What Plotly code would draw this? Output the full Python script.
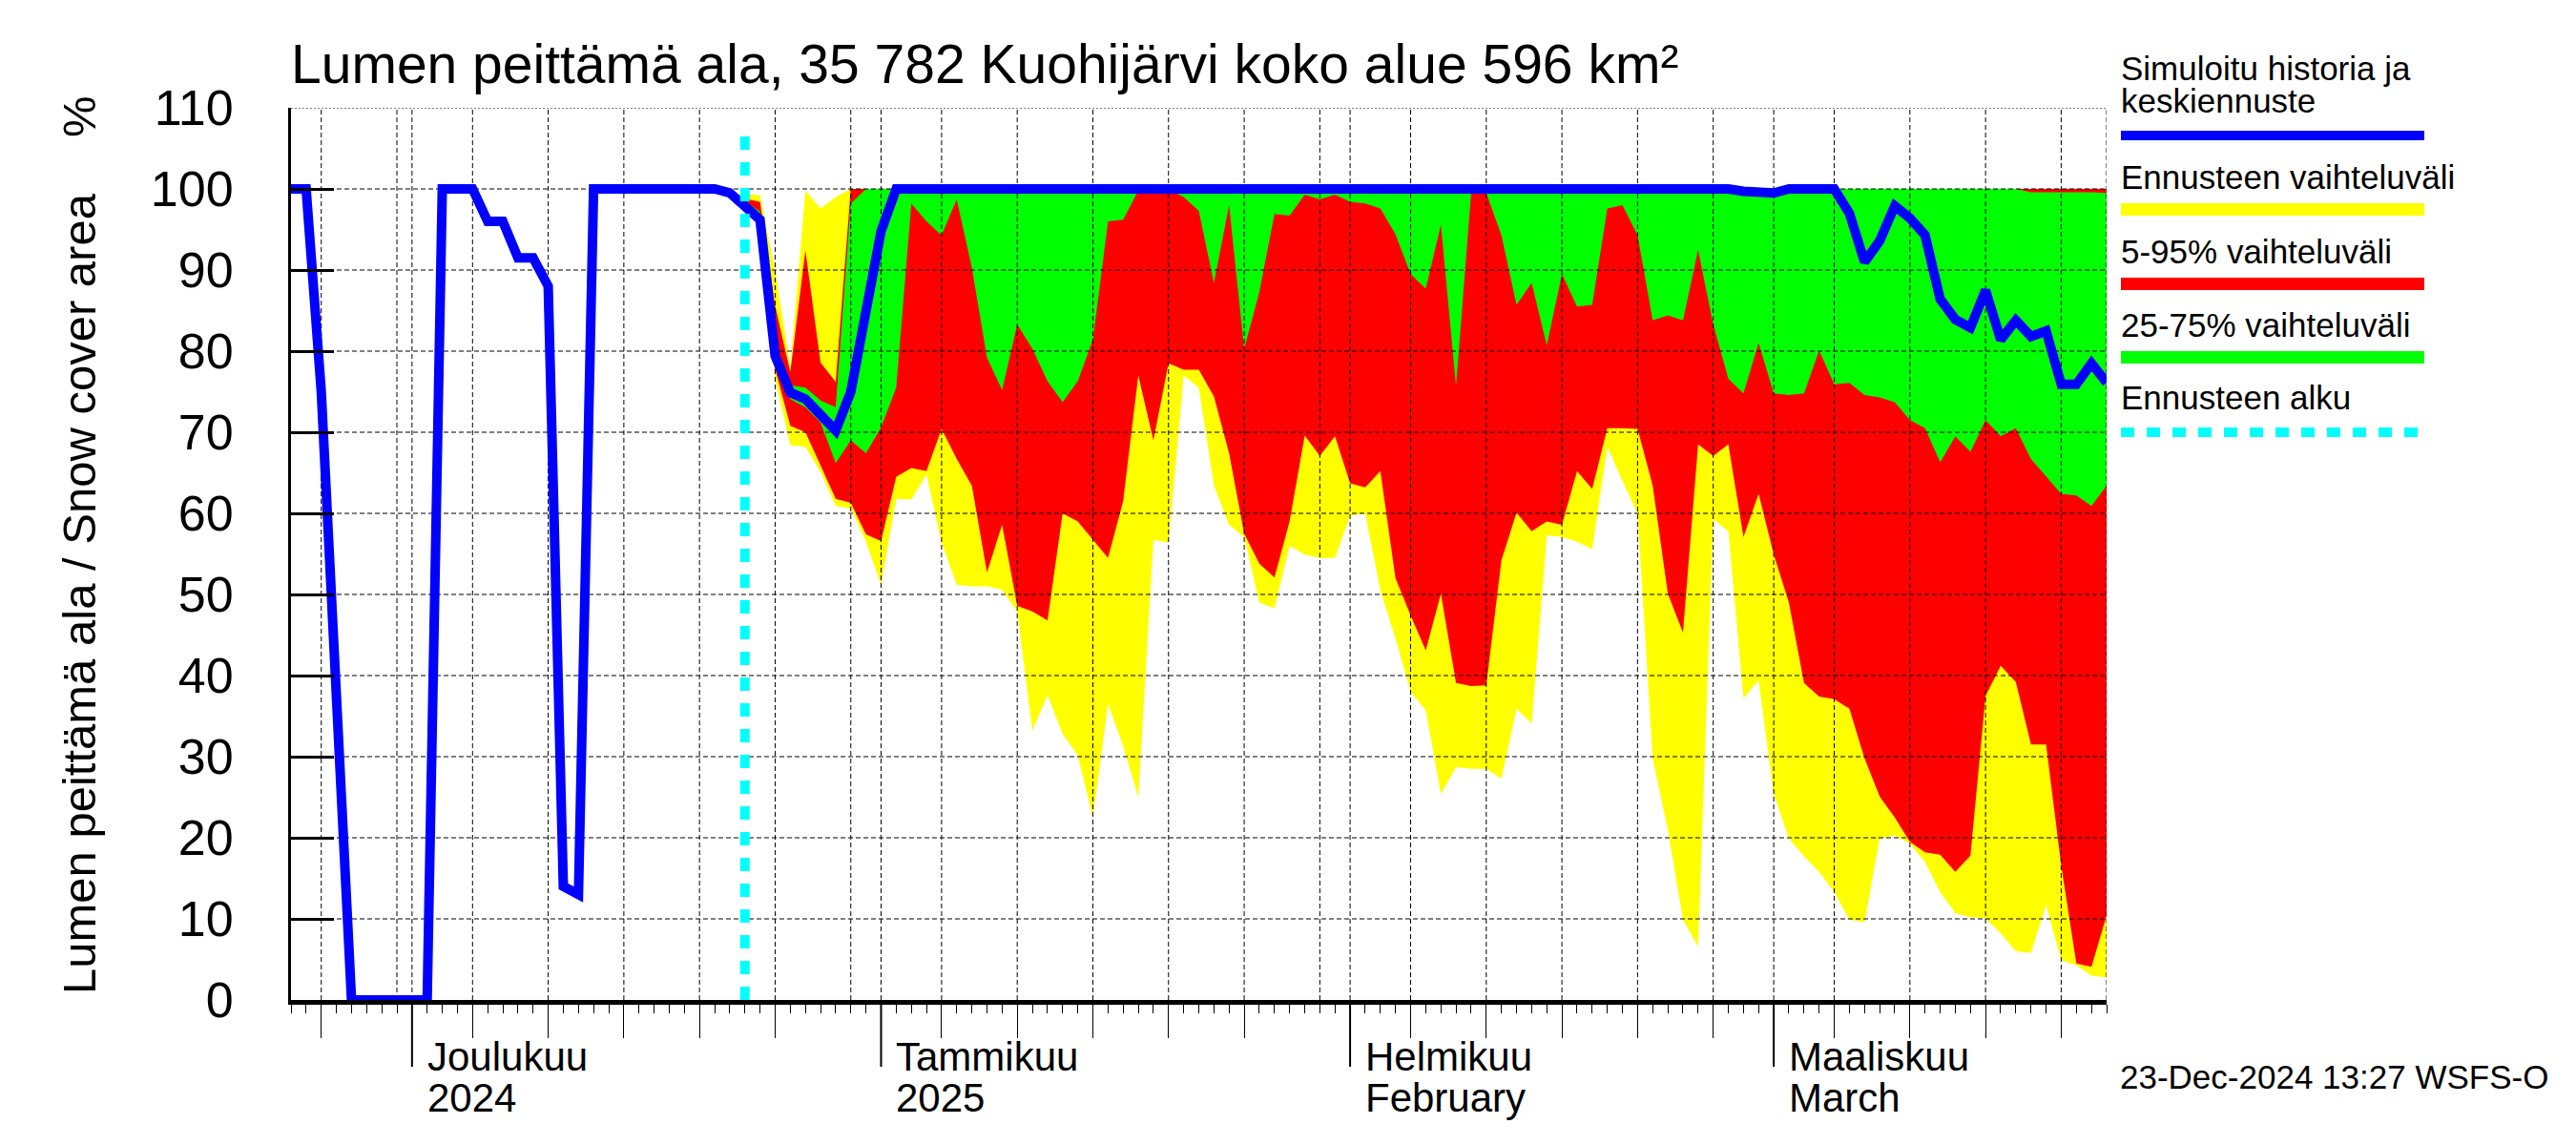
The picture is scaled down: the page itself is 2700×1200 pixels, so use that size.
import pandas as pd
import plotly.graph_objects as go

# ------------------------------------------------------------------ data
hist_start = '2024-11-23'
forecast_start = '2024-12-23'
x_end = '2025-03-23'

# simulated history, daily from 2024-11-23 to 2024-12-22 (%)
hist_snow = [100, 100, 75, 37, 0, 0, 0, 0, 0, 0,
             100, 100, 100, 96, 96, 91.5, 91.5, 88, 14, 13,
             100, 100, 100, 100, 100, 100, 100, 100, 100, 99.5]

# forecast, daily from 2024-12-23 to 2025-03-23 (%)
fc_median = [97.8, 96.2, 79.4, 74.9, 74.1, 72.3, 70.2, 75.0, 85.0, 94.8,
             100, 100, 100, 100, 100, 100, 100, 100, 100, 100,
             100, 100, 100, 100, 100, 100, 100, 100, 100, 100,
             100, 100, 100, 100, 100, 100, 100, 100, 100, 100,
             100, 100, 100, 100, 100, 100, 100, 100, 100, 100,
             100, 100, 100, 100, 100, 100, 100, 100, 100, 100,
             100, 100, 100, 100, 100, 100, 99.7, 99.5, 99.5, 100,
             100, 100, 100, 97.0, 91.0, 93.6, 97.9, 96.4, 94.3, 86.4,
             83.9, 82.9, 87.5, 81.4, 83.8, 81.8, 82.5, 75.9, 75.9, 78.5,
             76.1]

fc_min = [97.3, 95.4, 76.6, 68.4, 68.2, 65.1, 60.9, 60.6, 56.5, 51.2,
          61.8, 61.7, 64.8, 56.4, 51.2, 51.0, 51.0, 50.6, 47.9, 33.2,
          37.6, 32.8, 30.2, 22.5, 36.5, 31.3, 25.0, 56.7, 56.4, 77.0,
          75.5, 63.4, 58.6, 57.1, 49.0, 48.3, 56.0, 54.9, 54.5, 54.5,
          59.7, 60.0, 50.5, 44.6, 38.0, 35.7, 25.4, 28.7, 28.5, 28.5,
          27.3, 35.9, 34.1, 57.3, 57.1, 56.5, 55.6, 68.2, 64.0, 60.0,
          29.8, 21.0, 9.9, 6.6, 59.3, 57.8, 37.2, 39.4, 25.4, 19.9,
          17.7, 15.8, 13.3, 9.9, 9.6, 19.9, 20.3, 19.3, 17.0, 13.3,
          10.7, 10.2, 10.1, 8.2, 6.0, 5.8, 11.7, 4.9, 4.3, 3.0,
          2.8]

fc_p5 = [97.8, 95.8, 77.8, 70.8, 70.0, 65.9, 61.8, 61.3, 57.4, 56.6,
         64.5, 65.6, 65.2, 70.4, 66.7, 63.4, 52.7, 58.6, 48.6, 47.9,
         46.8, 60.0, 59.0, 56.7, 54.5, 61.5, 77.0, 69.0, 78.5, 77.7,
         77.7, 74.4, 67.4, 57.5, 53.8, 52.1, 59.0, 69.6, 67.1, 69.5,
         63.7, 63.2, 65.2, 52.0, 47.4, 43.1, 50.1, 39.1, 38.7, 38.8,
         54.2, 60.1, 57.8, 59.0, 58.6, 65.2, 63.0, 70.5, 70.5, 70.4,
         63.4, 50.1, 45.3, 68.5, 67.1, 68.5, 57.1, 62.4, 54.9, 49.0,
         39.1, 37.4, 37.1, 35.9, 29.8, 25.1, 22.5, 19.5, 18.2, 17.9,
         15.8, 17.8, 37.5, 41.2, 39.2, 31.5, 31.5, 16.6, 4.5, 4.1,
         10.4]

fc_p25 = [98.2, 96.2, 79.0, 74.1, 73.1, 71.2, 66.2, 69.0, 67.4, 70.6,
          75.5, 98.2, 96.0, 94.3, 98.7, 90.3, 79.2, 75.2, 83.3, 80.3,
          76.3, 73.7, 76.3, 81.4, 96.0, 96.2, 99.8, 100, 100, 99.0,
          97.3, 88.4, 98.0, 80.3, 87.3, 96.9, 96.7, 99.3, 98.7, 99.3,
          98.4, 98.2, 97.6, 94.4, 89.5, 87.7, 95.6, 75.7, 99.5, 99.5,
          94.3, 85.7, 88.4, 80.7, 89.5, 85.5, 85.7, 97.6, 98.0, 94.3,
          83.8, 84.4, 83.8, 92.5, 83.3, 76.6, 74.8, 81.0, 74.8, 74.6,
          74.8, 80.1, 75.9, 76.1, 74.6, 74.3, 73.7, 71.5, 70.5, 66.3,
          69.5, 67.6, 71.5, 69.5, 70.5, 66.7, 64.5, 62.4, 62.2, 60.9,
          63.4]

fc_p75 = [98.5, 97.2, 80.5, 75.8, 75.5, 73.9, 73.1, 98.2, 100, 100,
          100, 100, 100, 100, 100, 100, 100, 100, 100, 100,
          100, 100, 100, 100, 100, 100, 100, 100, 100, 100,
          100, 100, 100, 100, 100, 100, 100, 100, 100, 100,
          100, 100, 100, 100, 100, 100, 100, 100, 100, 100,
          100, 100, 100, 100, 100, 100, 100, 100, 100, 100,
          100, 100, 100, 100, 100, 100, 100, 100, 100, 100,
          100, 100, 100, 100, 100, 100, 100, 100, 100, 100,
          100, 100, 100, 100, 100, 99.6, 99.6, 99.6, 99.6, 99.6,
          99.5]

fc_p95 = [98.8, 98.4, 85.6, 77.4, 92.4, 78.6, 76.2, 100, 100, 100,
          100, 100, 100, 100, 100, 100, 100, 100, 100, 100,
          100, 100, 100, 100, 100, 100, 100, 100, 100, 100,
          100, 100, 100, 100, 100, 100, 100, 100, 100, 100,
          100, 100, 100, 100, 100, 100, 100, 100, 100, 100,
          100, 100, 100, 100, 100, 100, 100, 100, 100, 100,
          100, 100, 100, 100, 100, 100, 100, 100, 100, 100,
          100, 100, 100, 100, 100, 100, 100, 100, 100, 100,
          100, 100, 100, 100, 100, 100, 100, 100, 100, 100,
          100]

fc_max = [99.4, 99.2, 90.0, 78.0, 99.8, 97.6, 99.0, 100, 100, 100,
          100, 100, 100, 100, 100, 100, 100, 100, 100, 100,
          100, 100, 100, 100, 100, 100, 100, 100, 100, 100,
          100, 100, 100, 100, 100, 100, 100, 100, 100, 100,
          100, 100, 100, 100, 100, 100, 100, 100, 100, 100,
          100, 100, 100, 100, 100, 100, 100, 100, 100, 100,
          100, 100, 100, 100, 100, 100, 100, 100, 100, 100,
          100, 100, 100, 100, 100, 100, 100, 100, 100, 100,
          100, 100, 100, 100, 100, 100, 100, 100, 100, 100,
          100]

y_ticks = [0, 10, 20, 30, 40, 50, 60, 70, 80, 90, 100, 110]

grid_dates = ['2024-11-25', '2024-11-30', '2024-12-01', '2024-12-05', '2024-12-10',
              '2024-12-15', '2024-12-20', '2024-12-25', '2024-12-30', '2025-01-01',
              '2025-01-05', '2025-01-10', '2025-01-15', '2025-01-20', '2025-01-25',
              '2025-01-30', '2025-02-01', '2025-02-05', '2025-02-10', '2025-02-15',
              '2025-02-20', '2025-02-25', '2025-03-01', '2025-03-05', '2025-03-10',
              '2025-03-15', '2025-03-20', '2025-03-23']
five_day_ticks = ['2024-11-25', '2024-12-05', '2024-12-10', '2024-12-15', '2024-12-20',
                  '2024-12-25', '2025-01-05', '2025-01-10', '2025-01-15', '2025-01-20',
                  '2025-01-25', '2025-02-05', '2025-02-10', '2025-02-15', '2025-02-20',
                  '2025-02-25', '2025-03-05', '2025-03-10', '2025-03-15', '2025-03-20']
month_starts = ['2024-12-01', '2025-01-01', '2025-02-01', '2025-03-01']
month_line1 = ['Joulukuu', 'Tammikuu', 'Helmikuu', 'Maaliskuu']
month_line2 = ['2024', '2025', 'February', 'March']

title_text = 'Lumen peittämä ala, 35 782 Kuohijärvi koko alue 596 km²'
ytitle_text = 'Lumen peittämä ala / Snow cover area'
legend_labels = [['Simuloitu historia ja', 'keskiennuste'], ['Ennusteen vaihteluväli'],
                 ['5-95% vaihteluväli'], ['25-75% vaihteluväli'], ['Ennusteen alku']]
stamp_text = '23-Dec-2024 13:27 WSFS-O'

# ------------------------------------------------------------------ styles
FONT = 'Liberation Sans, Arial, Helvetica, sans-serif'
BLUE, YELLOW, RED, GREEN, CYAN = '#0000FF', '#FFFF00', '#FF0000', '#00FF00', '#00FFFF'
W, H = 2700, 1200
L, R, T, B = 305, 2208, 113, 1048     # plot area in pixels


def pxx(x):
    return (x - L) / (R - L)


def pxy(y):
    return (B - y) / (B - T)


hist_dates = list(pd.date_range(hist_start, periods=len(hist_snow), freq='D'))
fc_dates = list(pd.date_range(forecast_start, periods=len(fc_median), freq='D'))

fig = go.Figure()


def band(lo, hi, color):
    xs = fc_dates + fc_dates[::-1]
    ys = list(hi) + list(lo)[::-1]
    fig.add_trace(go.Scatter(x=xs, y=ys, mode='lines', fill='toself', fillcolor=color,
                             line=dict(width=0, color=color), hoverinfo='skip'))


band(fc_min, fc_max, YELLOW)
band(fc_p5, fc_p95, RED)
band(fc_p25, fc_p75, GREEN)

# grid lines (drawn above the bands, below the lines)
gx, gy = [], []
for g in grid_dates:
    gx += [g, g, None]
    gy += [y_ticks[0], y_ticks[-1], None]
fig.add_trace(go.Scatter(x=gx, y=gy, mode='lines', hoverinfo='skip',
                         line=dict(color='black', width=1, dash='5px,3px')))
hx, hy = [], []
for v in y_ticks[1:-1]:
    hx += [hist_start, x_end, None]
    hy += [v, v, None]
fig.add_trace(go.Scatter(x=hx, y=hy, mode='lines', hoverinfo='skip',
                         line=dict(color='black', width=1, dash='5px,3px')))
fig.add_trace(go.Scatter(x=[hist_start, x_end], y=[y_ticks[-1], y_ticks[-1]], mode='lines',
                         hoverinfo='skip', line=dict(color='black', width=1, dash='2px,2px')))

# simulated history + median forecast
fig.add_trace(go.Scatter(x=hist_dates + fc_dates, y=hist_snow + fc_median, mode='lines',
                         line=dict(color=BLUE, width=10), hoverinfo='x+y'))

# forecast start
fig.add_trace(go.Scatter(x=[forecast_start, forecast_start], y=[0, 108], mode='lines',
                         line=dict(color=CYAN, width=10, dash='14px,13px'), hoverinfo='skip'))

shapes = []
for m in month_starts:
    shapes.append(dict(type='line', xref='x', yref='paper', x0=m, x1=m, y0=0, y1=-70 / (B - T),
                       line=dict(color='black', width=2)))

annotations = []
for m, t1, t2 in zip(month_starts, month_line1, month_line2):
    annotations.append(dict(x=m, xref='x', y=pxy(1107), yref='paper', text=t1, showarrow=False,
                            xanchor='left', yanchor='middle', xshift=14,
                            font=dict(size=42, family=FONT, color='black')))
    annotations.append(dict(x=m, xref='x', y=pxy(1150), yref='paper', text=t2, showarrow=False,
                            xanchor='left', yanchor='middle', xshift=14,
                            font=dict(size=42, family=FONT, color='black')))

annotations.append(dict(x=pxx(303), xref='paper', y=pxy(67), yref='paper', text=title_text,
                        showarrow=False, xanchor='left', yanchor='middle',
                        font=dict(size=57, family=FONT, color='black')))
annotations.append(dict(x=pxx(83), xref='paper', y=pxy(622), yref='paper', text=ytitle_text,
                        showarrow=False, xanchor='center', yanchor='middle', textangle=-90,
                        font=dict(size=49, family=FONT, color='black')))
annotations.append(dict(x=pxx(83), xref='paper', y=pxy(122), yref='paper', text='%',
                        showarrow=False, xanchor='center', yanchor='middle', textangle=-90,
                        font=dict(size=49, family=FONT, color='black')))
annotations.append(dict(x=pxx(2220), xref='paper', y=pxy(1128), yref='paper', text=stamp_text,
                        showarrow=False, xanchor='left', yanchor='middle',
                        font=dict(size=35, family=FONT, color='black')))

# legend (drawn manually, text above each sample line)
leg_text_y = [[71, 106], [185], [263], [340], [417]]
leg_line_y = [142, 219.5, 297.5, 374.5, 453]
leg_line_w = [10, 13, 13, 13, 10]
leg_colors = [BLUE, YELLOW, RED, GREEN, CYAN]
for labels, tys, ly, lw, c in zip(legend_labels, leg_text_y, leg_line_y, leg_line_w, leg_colors):
    for lab, ty in zip(labels, tys):
        annotations.append(dict(x=pxx(2221), xref='paper', y=pxy(ty), yref='paper', text=lab,
                                showarrow=False, xanchor='left', yanchor='middle',
                                font=dict(size=35, family=FONT, color='black')))
    shapes.append(dict(type='line', xref='paper', yref='paper', x0=pxx(2223), x1=pxx(2541),
                       y0=pxy(ly), y1=pxy(ly),
                       line=dict(color=c, width=lw, dash='14px,13px' if c == CYAN else 'solid')))

fig.update_layout(
    template='none',
    width=W, height=H,
    margin=dict(l=L, r=W - R, t=T, b=H - B, pad=0, autoexpand=False),
    paper_bgcolor='white', plot_bgcolor='white', showlegend=False,
    font=dict(family=FONT, color='black', size=35),
    shapes=shapes, annotations=annotations,
    xaxis=dict(type='date', range=[hist_start, x_end], showgrid=False, zeroline=False,
               showline=True, linecolor='black', linewidth=5,
               ticks='outside', tickmode='array', tickvals=five_day_ticks, ticklen=35,
               tickwidth=1, tickcolor='black', showticklabels=False,
               minor=dict(dtick=86400000, tick0=hist_start, ticks='outside', ticklen=9,
                          tickwidth=1, tickcolor='black', showgrid=False),
               layer='above traces', automargin=False, fixedrange=True),
    yaxis=dict(range=[y_ticks[0], y_ticks[-1]], tickmode='array', tickvals=y_ticks,
               ticks='inside', ticklen=45, tickwidth=3, tickcolor='black',
               showline=True, linewidth=3, linecolor='black', showgrid=False, zeroline=False,
               tickfont=dict(size=52, family=FONT, color='black'), ticklabelstandoff=47,
               layer='above traces', automargin=False, fixedrange=True),
)

fig.write_html('out.html', config={'displayModeBar': False},
               post_script="document.body.style.margin='0px';")
